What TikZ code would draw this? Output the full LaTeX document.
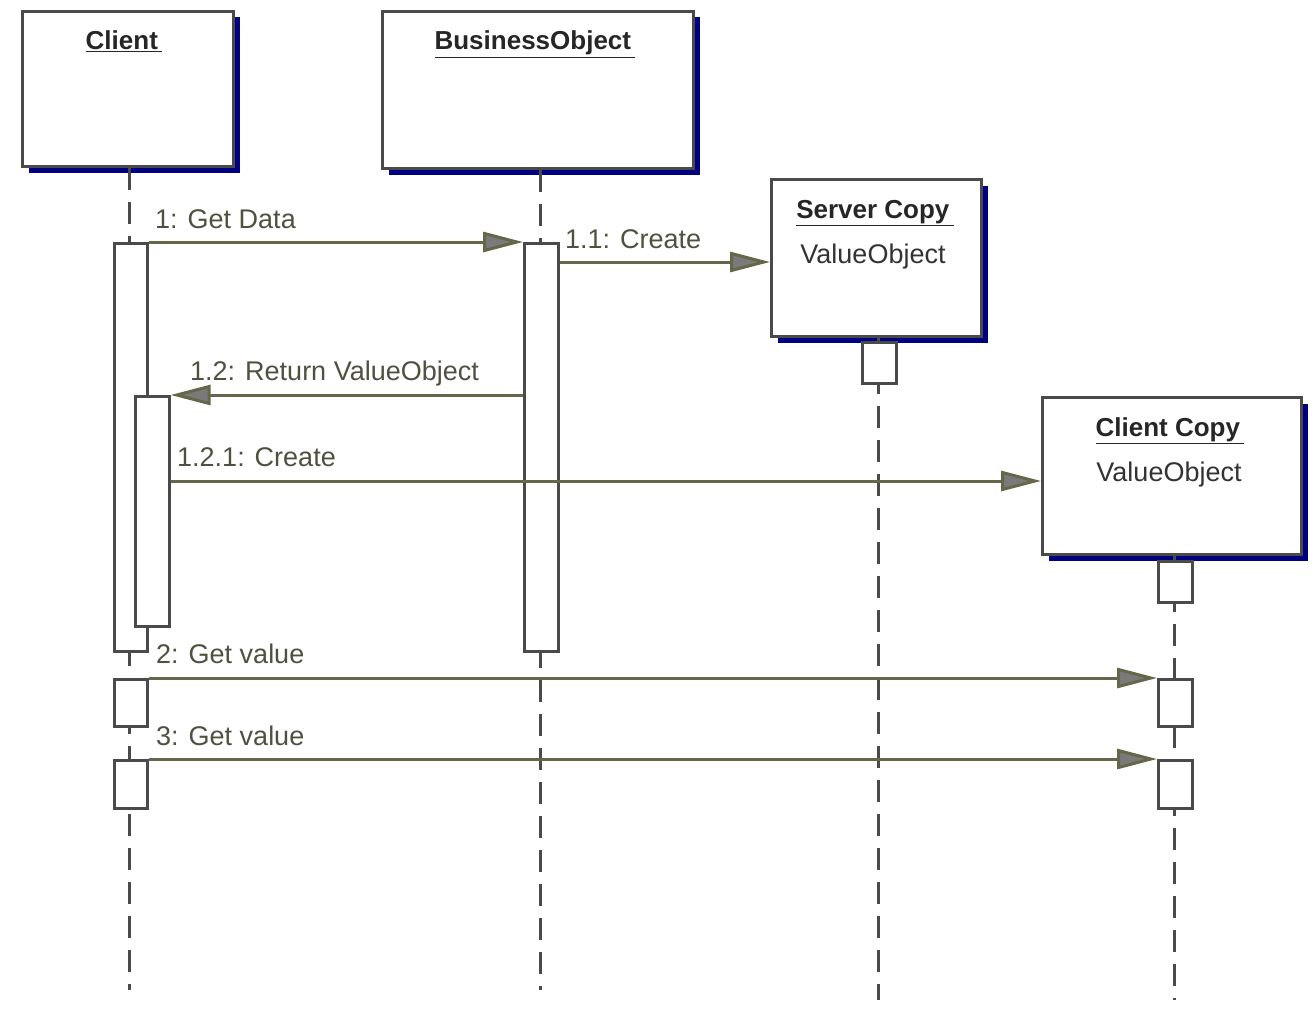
\documentclass[tikz,border=0pt]{standalone}
\usepackage{fontspec}
\setmainfont{Liberation Sans}
\usetikzlibrary{arrows.meta,shadows}
\definecolor{boxgray}{HTML}{4A4A4A}
\definecolor{navyc}{HTML}{000080}
\definecolor{msgline}{HTML}{66664A}
\definecolor{labelc}{HTML}{505040}
\definecolor{tipfill}{HTML}{7A7A7A}
\begin{document}
\begin{tikzpicture}[x=1pt,y=-1pt,
  obj/.style={draw=boxgray, line width=3pt, fill=white, rectangle, anchor=north west, inner sep=0pt,
    drop shadow={shadow xshift=6pt, shadow yshift=-6pt, fill=navyc, opacity=1}},
  act/.style={draw=boxgray, line width=2.6pt, fill=white, rectangle, anchor=north west, inner sep=0pt},
  life/.style={draw=boxgray, line width=3pt, dash pattern=on 22pt off 12pt},
  msg/.style={draw=msgline, line width=3pt, -{Triangle[length=40pt,width=20pt,fill=tipfill]}},
  lbl/.style={text=labelc, font=\fontsize{27}{30}\selectfont, anchor=base west, inner sep=0pt},
  ttl/.style={text=black!85, font=\bfseries\fontsize{26}{30}\selectfont, inner sep=0pt, anchor=base},
  typ/.style={text=black!80, font=\fontsize{27}{30}\selectfont, inner sep=0pt, anchor=base}]
\useasboundingbox (0,0) rectangle (1314,1014);
% object boxes
\node[obj, minimum width=211pt, minimum height=155pt] (client) at (21,10) {};
\node[obj, minimum width=311pt, minimum height=157pt] (bo) at (381,10) {};
\node[obj, minimum width=210pt, minimum height=157pt] (sc) at (770,178) {};
\node[obj, minimum width=259pt, minimum height=157pt] (cc) at (1041,396) {};
\node[ttl] (tclient) at (124,50) {\underline{Client\,}};
\node[ttl] (tbo) at (535,50) {\underline{BusinessObject\,}};
\node[ttl] (tsc) at (875,218) {\underline{Server Copy\,}};
\node[typ] (vsc) at (873,263) {ValueObject};
\node[ttl] (tcc) at (1170,436) {\underline{Client Copy\,}};
\node[typ] (vcc) at (1169,481) {ValueObject};
% lifeline ends
\coordinate (endC) at (129.5,990);
\coordinate (endB) at (540,990);
\coordinate (endS) at (878,1000);
\coordinate (endCC) at (1174,1000);
\draw[life] (endC |- client.south) -- (endC);
\draw[life] (endB |- bo.south) -- (endB);
\draw[life] (endS |- sc.south) -- (endS);
\draw[life] (endCC |- cc.south) -- (endCC);
% activations
\node[act, minimum width=33pt, minimum height=408pt] (ca1) at (113,242) {};
\node[act, minimum width=34pt, minimum height=230pt] (ci) at (134,395) {};
\node[act, minimum width=34pt, minimum height=408pt] (ba) at (523,242) {};
\node[act, minimum width=34pt, minimum height=41pt] (ss) at (861,341) {};
\node[act, minimum width=34pt, minimum height=41pt] (cs) at (1157,560) {};
\node[act, minimum width=33pt, minimum height=47pt] (cb1) at (113,678) {};
\node[act, minimum width=33pt, minimum height=48pt] (cb2) at (113,759) {};
\node[act, minimum width=34pt, minimum height=47pt] (cc1) at (1157,678) {};
\node[act, minimum width=34pt, minimum height=48pt] (cc2) at (1157,759) {};
% messages
\coordinate (y11) at (0,262);
\coordinate (y121) at (0,481);
\draw[msg] (ca1.north east) -- (ba.north west);
\draw[msg] (ba.east |- y11) -- (sc.west |- y11);
\draw[msg] (ba.west |- ci.north) -- (ci.north east);
\draw[msg] (ci.east |- y121) -- (cc.west |- y121);
\draw[msg] (cb1.north east) -- (cc1.north west);
\draw[msg] (cb2.north east) -- (cc2.north west);
% labels
\node[lbl] (l1) at (155,228) {1: Get Data};
\node[lbl] (l11) at (565,248) {1.1: Create};
\node[lbl] (l12) at (190,380) {1.2: Return ValueObject};
\node[lbl] (l121) at (177,466) {1.2.1: Create};
\node[lbl] (l2) at (156,663) {2: Get value};
\node[lbl] (l3) at (156,745) {3: Get value};
\end{tikzpicture}
\end{document}
